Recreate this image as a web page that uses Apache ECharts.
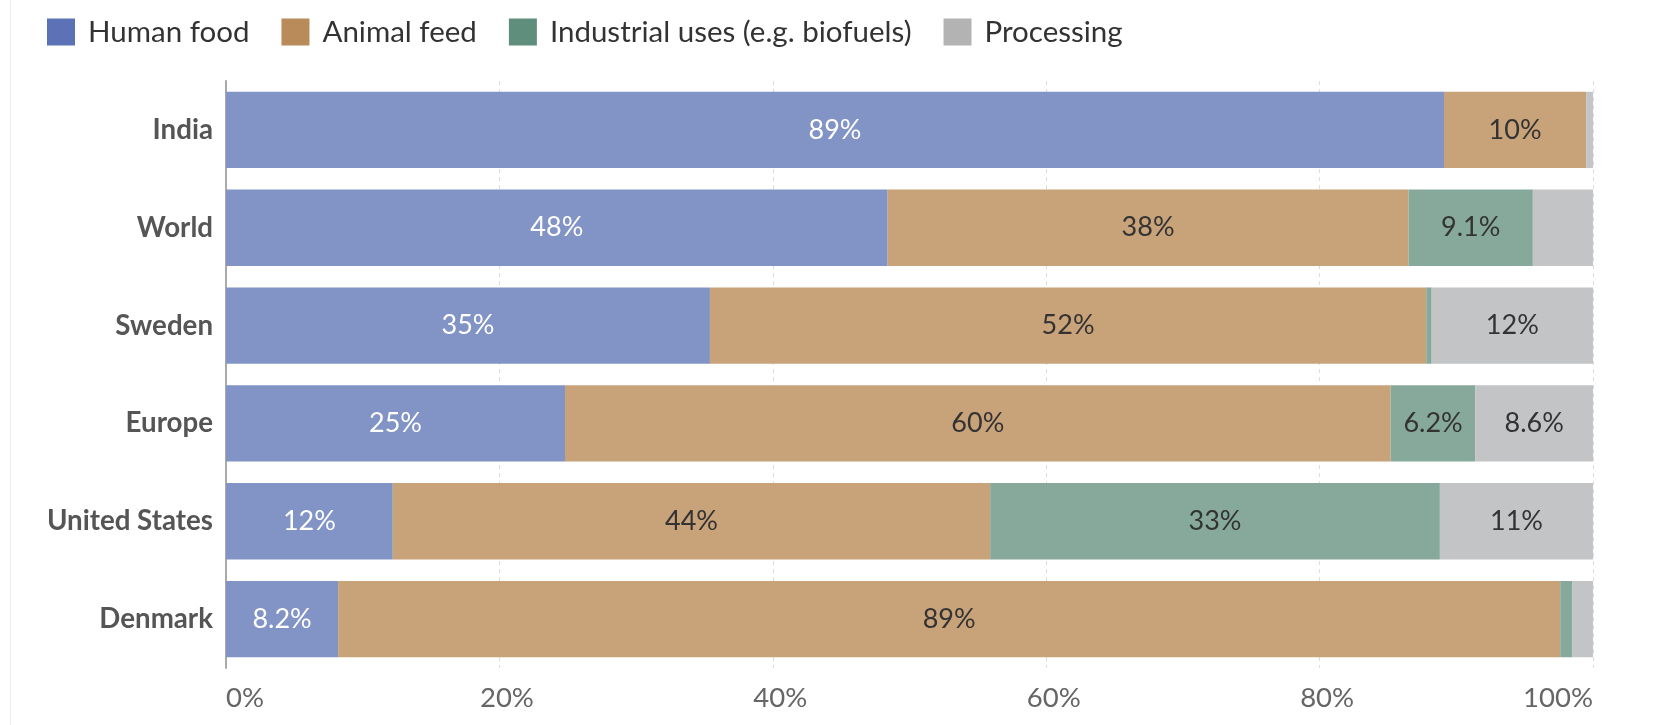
<!DOCTYPE html>
<html><head><meta charset="utf-8">
<script src="https://cdn.jsdelivr.net/npm/echarts@6/dist/echarts.min.js"></script>
<style>html,body{margin:0;padding:0;background:#fff}#c{width:1654px;height:725px}</style>
</head><body><div id="c"></div>
<script>
const categories = ['India', 'World', 'Sweden', 'Europe', 'United States', 'Denmark'];
const humanFood = [89.1, 48.4, 35.4, 24.8, 12.2, 8.2];
const animalFeed = [10.4, 38.1, 52.4, 60.4, 43.7, 89.4];
const industrialUses = [0, 9.1, 0.4, 6.2, 32.9, 0.9];
const processing = [0.5, 4.4, 11.8, 8.6, 11.2, 1.5];
const seriesNames = ['Human food', 'Animal feed', 'Industrial uses (e.g. biofuels)', 'Processing'];
const xTicks = [0, 20, 40, 60, 80, 100];

const legendColors = ['#5d71b6', '#b98b5b', '#5f8e7d', '#b3b3b3'];
const barColors = ['#8194c5', '#c8a278', '#86a99c', '#c3c4c6'];
const labelColors = ['#ffffff', '#333333', '#333333', '#333333'];
const FONT = 'Lato, "Noto Sans", sans-serif';

function fmt(v) { return v >= 10 ? Math.round(v) + '%' : v.toFixed(1) + '%'; }

const allData = [humanFood, animalFeed, industrialUses, processing];
const chart = echarts.init(document.getElementById('c'), null, {renderer: 'canvas'});
chart.setOption({
  animation: false,
  textStyle: {fontFamily: FONT},
  legend: {
    left: 42, top: 12, itemWidth: 28, itemHeight: 27, itemGap: 32,
    icon: 'rect',
    textStyle: {fontSize: 29.5, color: '#333', fontFamily: FONT, padding: [0, 0, 0, 8]},
    data: seriesNames.map((n, i) => ({name: n, itemStyle: {color: legendColors[i], opacity: 1}}))
  },
  graphic: [{type: 'rect', shape: {x: 10, y: 0, width: 1, height: 725}, style: {fill: '#ececec'}, silent: true}],
  grid: {left: 226, right: 61, top: 81, bottom: 57},
  xAxis: {
    type: 'value', min: 0, max: 100, interval: 20,
    axisLabel: {
      formatter: v => !xTicks.includes(v) ? '' : (v === 0 || v === 100 ? v + '%' : '{m|' + v + '%}'),
      fontSize: 27.5, color: '#666', margin: 16, fontFamily: FONT,
      alignMinLabel: 'left', alignMaxLabel: 'right',
      rich: {m: {fontSize: 27.5, color: '#666', fontFamily: FONT, padding: [0, 0, 0, 15]}}
    },
    splitLine: {show: true, lineStyle: {type: [4, 4], color: '#dddddd', width: 1}},
    axisLine: {show: false}, axisTick: {show: false}
  },
  yAxis: {
    type: 'category', data: categories, inverse: true,
    axisLine: {show: true, lineStyle: {color: '#aaa', width: 2}},
    axisTick: {show: false},
    axisLabel: {fontSize: 27.7, fontWeight: 'bold', color: '#555', margin: 13, fontFamily: FONT, padding: [4, 0, 0, 0]}
  },
  series: seriesNames.map((n, i) => ({
    name: n, type: 'bar', stack: 'total', barCategoryGap: '22%',
    itemStyle: {color: barColors[i]},
    label: {
      show: true, position: 'inside', color: labelColors[i], fontSize: 27, fontFamily: FONT,
      formatter: p => p.value >= 5 ? fmt(p.value) : ''
    },
    emphasis: {disabled: true},
    data: allData[i]
  }))
});
</script></body></html>
